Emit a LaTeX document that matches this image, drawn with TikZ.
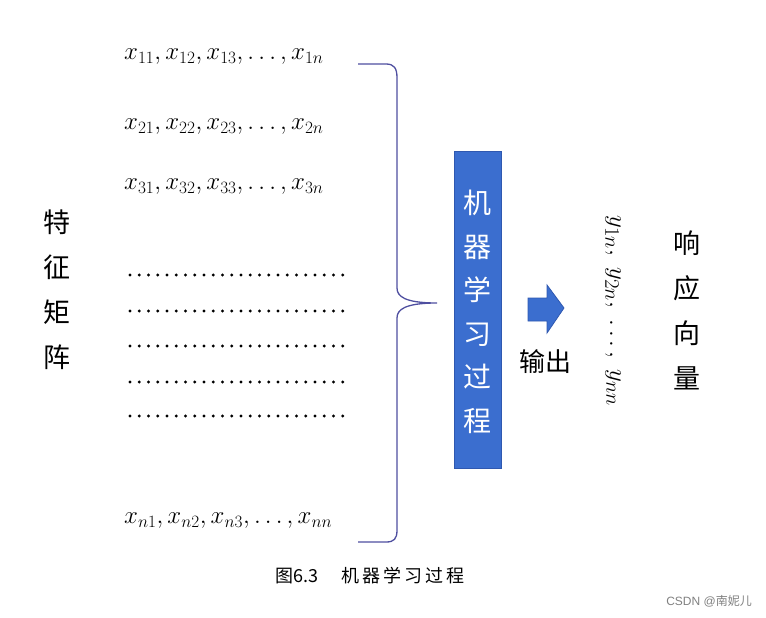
\documentclass[tikz,border=0pt]{standalone}
\usepackage{fontspec}
\newfontfamily\cjk{Noto Sans CJK SC}
\usepackage{tikz}
\usetikzlibrary{positioning}

\definecolor{bracecol}{HTML}{4F4FA0}
\definecolor{boxblue}{HTML}{3B6ECF}
\definecolor{boxedge}{HTML}{2F58B0}

\tikzset{
  row/.style={anchor=west, inner sep=0pt, font=\fontsize{26}{28}\selectfont},
  vlabel/.style={align=center, inner sep=0pt, font=\cjk\fontsize{27}{45}\selectfont},
  boxlabel/.style={align=center, inner sep=0pt, text=white, font=\cjk\fontsize{28}{43.5}\selectfont}
}

\begin{document}
\begin{tikzpicture}[x=1pt,y=-1pt]
			\useasboundingbox (0,0) rectangle (766,618);
			% rows of the matrix
			\node[row] (r1) at (124,57) {$x_{11}, x_{12}, x_{13}, \ldots, x_{1n}$};
			\node[row] (r2) at (124,127) {$x_{21}, x_{22}, x_{23}, \ldots, x_{2n}$};
			\node[row] (r3) at (124,187) {$x_{31}, x_{32}, x_{33}, \ldots, x_{3n}$};
			\node[row] (rn) at (124,521) {$x_{n1}, x_{n2}, x_{n3}, \ldots, x_{nn}$};
			\foreach \y/\i in {275/1,311/2,346/3,382/4,416/5}
				\foreach \k in {0,...,23}
					\fill (130+9.25*\k,\y) circle (1.6pt);
			% brace
			\draw[bracecol, line width=1.3pt] (358,64) -- (386,64)
				.. controls (394,64) and (397,68) .. (397,78) -- (397,288)
				.. controls (397,296) and (404,303) .. (437,303)
				.. controls (404,303) and (397,310) .. (397,318) -- (397,530)
				.. controls (397,539) and (394,542) .. (386,542) -- (358,542);
			\node[vlabel] (feat) at (57,290) {特\\征\\矩\\阵};
			% learning box
			\node[draw=boxedge, fill=boxblue, line width=0.8pt, minimum width=47pt, minimum height=317pt, inner sep=0pt] (ml) at (477.5,309.5) {};
			\node[boxlabel] (mltext) at (477.5,312) {机\\器\\学\\习\\过\\程};
			\filldraw[fill=boxblue, draw=boxedge, line width=0.8pt] (528,298) -- (547,298) -- (547,285) -- (564,308)
				-- (547,333) -- (547,321) -- (528,321) -- cycle;
			\node[inner sep=0pt, font=\cjk\fontsize{26}{28}\selectfont] (out) at (545,362) {输出};
			\node[rotate=-90, inner sep=0pt, font=\fontsize{28}{30}\selectfont] (yvec) at (613,311) {$y_{1n},\; y_{2n},\; \ldots,\; y_{nn}$};
			\node[vlabel] (resp) at (687,310) {响\\应\\向\\量};
			% caption
			\node[inner sep=0pt, font=\cjk\fontsize{18}{20}\selectfont] (cap) at (370,576) {图6.3\hspace{1.3em}机\,器\,学\,习\,过\,程};
			\node[anchor=east, inner sep=0pt, text=gray, font=\fontsize{12}{14}\selectfont\fontspec{Liberation Sans}] (wm) at (752,601) {CSDN @{\cjk 南妮儿}};
\end{tikzpicture}
\end{document}
